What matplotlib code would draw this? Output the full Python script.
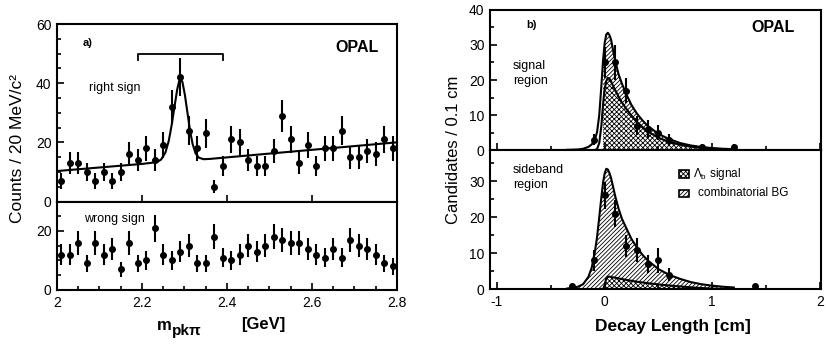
## OPAL Lambda_b plots: a) pK-pi mass spectrum, b) decay length
import numpy as np
import matplotlib.pyplot as plt
from matplotlib.ticker import MultipleLocator
from matplotlib.patches import Rectangle

plt.rcParams['font.family'] = ['Liberation Sans', 'DejaVu Sans']
plt.rcParams['mathtext.fontset'] = 'custom'
plt.rcParams['mathtext.rm'] = 'Liberation Sans'
plt.rcParams['mathtext.bf'] = 'Liberation Sans:bold'
plt.rcParams['hatch.linewidth'] = 0.6
plt.rcParams['hatch.color'] = 'black'

## a) mass spectrum, 20 MeV bins from 2.0 to 2.8 GeV
mass_bins = 2.01 + 0.02 * np.arange(40)
right_sign = [7, 13, 13, 10, 7, 10, 7, 10, 16, 14, 18, 14, 19, 32, 42, 24, 18, 23, 5, 12,
              21, 20, 14, 12, 12, 17, 29, 21, 13, 19, 12, 18, 18, 24, 15, 15, 17, 16, 21, 18]
wrong_sign = [12, 12, 16, 9, 16, 12, 14, 7, 16, 9, 10, 21, 12, 10, 13, 15, 9, 9, 18, 11,
              10, 12, 15, 13, 15, 18, 17, 16, 16, 14, 12, 11, 14, 11, 17, 15, 14, 12, 9, 8]
fit_x = [2.00, 2.10, 2.20, 2.235, 2.245, 2.255, 2.263, 2.27, 2.277, 2.283, 2.289, 2.295,
         2.301, 2.307, 2.313, 2.319, 2.326, 2.334, 2.345, 2.36, 2.50, 2.65, 2.80]
fit_y = [10.3, 11.5, 12.7, 13.3, 14.2, 16.5, 20.5, 26.0, 32.5, 38.0, 41.6, 40.5,
         36.0, 30.0, 24.0, 19.5, 16.3, 14.8, 14.3, 14.4, 16.2, 18.1, 20.0]
window = [2.19, 2.39]

## b) decay length, signal region and sideband region
dl_x = np.array([-0.35, -0.25, -0.2, -0.15, -0.12, -0.09, -0.07, -0.05, -0.03, -0.015, 0.0,
                 0.015, 0.03, 0.045, 0.06, 0.08, 0.1, 0.13, 0.16, 0.2, 0.25, 0.3, 0.35, 0.4,
                 0.5, 0.6, 0.7, 0.8, 0.9, 1.0, 1.1, 1.2])
sr_total = np.array([0.05, 0.15, 0.35, 0.9, 1.6, 3.0, 5.2, 10.0, 18.5, 25.5, 30.5,
                     33.0, 33.5, 32.8, 31.5, 28.2, 25.2, 21.6, 19.0, 16.0, 12.8, 10.4, 8.5, 6.9,
                     4.6, 3.1, 2.0, 1.3, 0.85, 0.55, 0.35, 0.25])
sr_signal = np.array([0, 0, 0, 0, 0, 0, 0.3, 2.0, 7.0, 13.0, 17.5,
                      19.7, 20.6, 20.4, 19.6, 18.2, 17.0, 15.2, 13.6, 11.8, 9.8, 8.0, 6.6, 5.3,
                      3.5, 2.3, 1.5, 0.95, 0.6, 0.4, 0.25, 0.15])
sb_total = np.array([0.2, 0.7, 1.4, 3.5, 6.0, 10.5, 14.6, 20.0, 25.6, 29.5, 32.1,
                     33.4, 33.2, 32.2, 30.8, 28.2, 25.6, 22.3, 19.6, 17.0, 13.9, 11.6, 9.6, 8.0,
                     5.6, 4.0, 2.9, 2.0, 1.4, 1.0, 0.7, 0.5])
sb_signal = np.array([0, 0, 0, 0, 0, 0, 0, 0, 0, 0, 1.2,
                      3.0, 3.5, 3.5, 3.4, 3.3, 3.2, 3.0, 2.85, 2.6, 2.35, 2.1, 1.9, 1.7,
                      1.35, 1.05, 0.8, 0.55, 0.35, 0.2, 0.1, 0.05])

sr_x = [-0.1, 0.0, 0.1, 0.2, 0.3, 0.4, 0.5, 0.6, 0.9, 1.2]
sr_y = [3, 25, 25, 17, 7, 6, 5, 3, 1, 1]
sr_err = [1.5, 4.5, 5.0, 3.5, 2.7, 2.6, 2.2, 1.7, 0.6, 0.6]
sb_x = [-0.3, -0.1, 0.0, 0.1, 0.2, 0.3, 0.4, 0.5, 0.6, 1.4]
sb_y = [1, 8, 26, 21, 12, 11, 7, 8, 4, 1]
sb_err = [0.6, 2.9, 3.8, 3.8, 3.0, 3.3, 2.6, 3.4, 1.8, 0.6]

fig = plt.figure(figsize=(8.26, 3.47), dpi=100)

ax1 = fig.add_axes([0.069, 0.4193, 0.4116, 0.5115])
ax2 = fig.add_axes([0.069, 0.1643, 0.4116, 0.255])
ax3 = fig.add_axes([0.5932, 0.5677, 0.4008, 0.4035])
ax4 = fig.add_axes([0.5932, 0.1663, 0.4008, 0.4014])

for ax in [ax1, ax2, ax3, ax4]:
    for s in ax.spines.values():
        s.set_linewidth(1.5)
    ax.tick_params(which='both', direction='in', labelsize=10, width=1.2, pad=4)
    ax.tick_params(which='major', length=5)
    ax.tick_params(which='minor', length=3)

# a) right sign
ax1.errorbar(mass_bins, right_sign, yerr=np.sqrt(right_sign), fmt='o', color='k',
             ms=4, elinewidth=1.5, capsize=0)
ax1.plot(fit_x, fit_y, color='k', lw=1.5)
ax1.plot([window[0], window[0], window[1], window[1]], [47.8, 49.8, 49.8, 47.8], color='k', lw=1.3)
ax1.set_xlim(2.0, 2.8)
ax1.set_ylim(0, 60)
ax1.xaxis.set_major_locator(MultipleLocator(0.2))
ax1.yaxis.set_major_locator(MultipleLocator(20))
ax1.yaxis.set_minor_locator(MultipleLocator(5))
ax1.tick_params(axis='x', labelbottom=False)
ax1.text(2.061, 53.6, 'a)', fontsize=8, fontweight='bold', va='center')
ax1.text(2.654, 52.2, 'OPAL', fontsize=11.5, fontweight='bold', va='center')
ax1.text(2.075, 38.3, 'right sign', fontsize=9, va='center')

# a) wrong sign
ax2.errorbar(mass_bins, wrong_sign, yerr=np.sqrt(wrong_sign), fmt='o', color='k',
             ms=4, elinewidth=1.5, capsize=0)
ax2.set_xlim(2.0, 2.8)
ax2.set_ylim(0, 30)
ax2.xaxis.set_major_locator(MultipleLocator(0.2))
ax2.xaxis.set_minor_locator(MultipleLocator(0.05))
ax2.yaxis.set_major_locator(MultipleLocator(20))
ax2.yaxis.set_minor_locator(MultipleLocator(5))
ax2.set_xticks([2.0, 2.2, 2.4, 2.6, 2.8], ['2', '2.2', '2.4', '2.6', '2.8'])
ax2.text(2.064, 24.1, 'wrong sign', fontsize=9, va='center')

# b) signal region
m = dl_x >= -0.015
ax3.fill_between(dl_x, 0, sr_signal, where=m, facecolor='white', edgecolor='black',
                 linewidth=0, hatch='xxxxxxx')
ax3.fill_between(dl_x, sr_signal, sr_total, where=m, facecolor='white', edgecolor='black',
                 linewidth=0, hatch='////////')
ax3.plot(dl_x, sr_total, color='k', lw=1.5)
ax3.plot(dl_x[5:], sr_signal[5:], color='k', lw=1.5)
ax3.errorbar(sr_x, sr_y, yerr=sr_err, fmt='o', color='k', ms=4, elinewidth=1.5, capsize=0)
ax3.set_ylim(0, 40)
ax3.text(-0.725, 35.6, 'b)', fontsize=8, fontweight='bold', va='center')
ax3.text(1.366, 35.0, 'OPAL', fontsize=11.5, fontweight='bold', va='center')
ax3.text(-0.854, 21.9, 'signal\nregion', fontsize=9, va='center', linespacing=1.3)

# b) sideband region
m0 = dl_x >= 0.0
ax4.fill_between(dl_x, 0, sb_signal, where=m0, facecolor='white', edgecolor='black',
                 linewidth=0, hatch='xxxxxxx')
ax4.fill_between(dl_x, sb_signal, sb_total, facecolor='white', edgecolor='black',
                 linewidth=0, hatch='////////')
ax4.plot(dl_x, sb_total, color='k', lw=1.5)
ax4.plot(dl_x[9:], sb_signal[9:], color='k', lw=1.5)
ax4.errorbar(sb_x, sb_y, yerr=sb_err, fmt='o', color='k', ms=4, elinewidth=1.5, capsize=0)
ax4.set_ylim(0, 38.6)
ax4.text(-0.854, 31.0, 'sideband\nregion', fontsize=9, va='center', linespacing=1.3)
ax4.add_patch(Rectangle((0.570, 0.80), 0.03, 0.056, transform=ax4.transAxes,
                        facecolor='white', edgecolor='black', lw=1.2, hatch='xxxxxxx'))
ax4.add_patch(Rectangle((0.570, 0.66), 0.03, 0.056, transform=ax4.transAxes,
                        facecolor='white', edgecolor='black', lw=1.2, hatch='////////'))
ax4.text(0.612, 0.828, 'Λ$_\\mathrm{b}$ signal', transform=ax4.transAxes, fontsize=8.5, va='center')
ax4.text(0.627, 0.688, 'combinatorial BG', transform=ax4.transAxes, fontsize=8.5, va='center')

for ax in [ax3, ax4]:
    ax.set_xlim(-1.065, 2.01)
    ax.xaxis.set_major_locator(MultipleLocator(1))
    ax.xaxis.set_minor_locator(MultipleLocator(0.5))
    ax.yaxis.set_major_locator(MultipleLocator(10))
    ax.yaxis.set_minor_locator(MultipleLocator(5))
ax3.tick_params(axis='x', labelbottom=False)
ax4.set_xticks([-1, 0, 1, 2], ['-1', '0', '1', '2'])

# axis titles
fig.text(17.5 / 826, 1 - 148.5 / 347, 'Counts / 20 MeV/c²', rotation=90, fontsize=12.5,
         ha='center', va='center')
fig.text(454 / 826, 1 - 149.5 / 347, 'Candidates / 0.1 cm', rotation=90, fontsize=12,
         ha='center', va='center')
fig.text(157 / 826, 1 - 330 / 347, 'm', fontsize=12, fontweight='bold', va='baseline')
fig.text(172 / 826, 1 - 335 / 347, 'pkπ', fontsize=11, fontweight='bold', va='baseline')
fig.text(241 / 826, 1 - 328.5 / 347, '[GeV]', fontsize=12, fontweight='bold', va='baseline')
fig.text(673 / 826, 1 - 330.7 / 347, 'Decay Length [cm]', fontsize=12.5, fontweight='bold',
         ha='center', va='baseline')

plt.savefig('out.png', dpi=100)
